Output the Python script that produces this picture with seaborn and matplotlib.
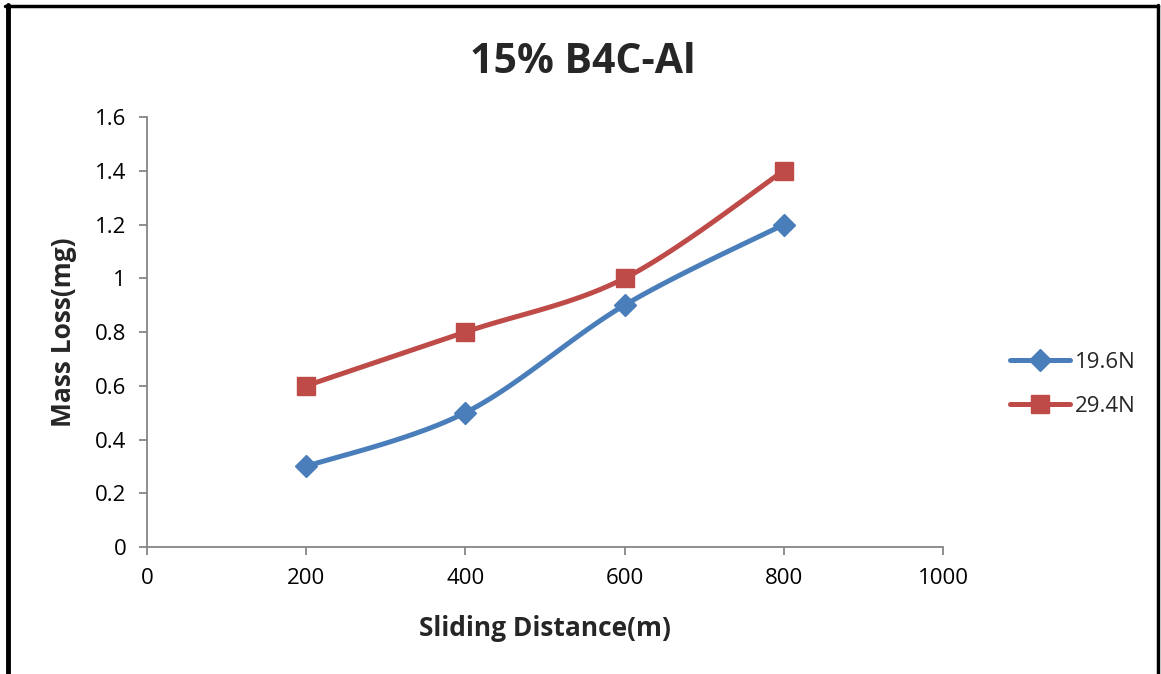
import numpy as np
import pandas as pd
import matplotlib
matplotlib.use("Agg")
import matplotlib.pyplot as plt
import seaborn as sns
from matplotlib.lines import Line2D

distance = [200, 400, 600, 800]
loss_196 = [0.3, 0.5, 0.9, 1.2]
loss_294 = [0.6, 0.8, 1.0, 1.4]
series_names = ["19.6N", "29.4N"]
colors = ["#4A7EBB", "#BE4B48"]
markers = ["D", "s"]
msizes = [11.5, 13]

sns.set_theme(style="white")
plt.rcParams['font.family'] = ['Open Sans', 'DejaVu Sans']


def excel_smooth(x, y, n=40):
    x = np.asarray(x, float); y = np.asarray(y, float)
    pts = np.column_stack([x, y])
    P = np.vstack([pts[0], pts, pts[-1]])
    out = []
    for i in range(1, len(P) - 2):
        p0, p1, p2, p3 = P[i - 1], P[i], P[i + 1], P[i + 2]
        c1 = p1 + (p2 - p0) / 6.0
        c2 = p2 - (p3 - p1) / 6.0
        t = np.linspace(0, 1, n)[:, None]
        seg = ((1 - t) ** 3) * p1 + 3 * ((1 - t) ** 2) * t * c1 + 3 * (1 - t) * t ** 2 * c2 + t ** 3 * p2
        out.append(seg if i == 1 else seg[1:])
    s = np.vstack(out)
    return s[:, 0], s[:, 1]


fig = plt.figure(figsize=(11.61, 6.74), dpi=100)
ax = fig.add_axes([0.1266, 0.1884, 0.6856, 0.638])

handles = []
for name, vals, c, m, ms in zip(series_names, [loss_196, loss_294], colors, markers, msizes):
    sx, sy = excel_smooth(distance, vals)
    df = pd.DataFrame({"x": sx, "y": sy})
    sns.lineplot(data=df, x="x", y="y", ax=ax, color=c, lw=3.6, sort=False, estimator=None)
    ax.plot(distance, vals, linestyle="none", marker=m, markersize=ms, color=c, zorder=3)
    handles.append(Line2D([0], [0], color=c, lw=3.6, marker=m, markersize=ms, solid_capstyle="round"))

ax.set_xlim(0, 1000)
ax.set_ylim(0, 1.6)
ax.set_xticks([0, 200, 400, 600, 800, 1000])
ax.set_yticks([0, 0.2, 0.4, 0.6, 0.8, 1.0, 1.2, 1.4, 1.6])
ax.set_yticklabels(["0", "0.2", "0.4", "0.6", "0.8", "1", "1.2", "1.4", "1.6"])
for s in ["top", "right"]:
    ax.spines[s].set_visible(False)
for s in ["left", "bottom"]:
    ax.spines[s].set_color("#868686")
    ax.spines[s].set_linewidth(1.3)
ax.tick_params(axis="both", which="major", direction="out", length=6, width=1.3,
               color="#868686", labelsize=16, labelcolor="black", pad=9,
               left=True, bottom=True)
ax.set_xlabel("Sliding Distance(m)", fontsize=19, fontweight="bold", labelpad=19)
ax.set_ylabel("Mass Loss(mg)", fontsize=19, fontweight="bold", labelpad=13)
fig.text(0.502, 0.908, "15% B4C-Al", ha="center", va="center", fontsize=29.5, fontweight="bold")

fig.legend(handles, series_names, loc="center left", bbox_to_anchor=(0.853, 0.43),
           frameon=False, fontsize=16, handlelength=2.7, labelspacing=1.05, handletextpad=0.2)

# outer border (left, top, right)
fig.add_artist(Line2D([0.0065, 0.0065], [0, 0.993], color="black", lw=3.5, transform=fig.transFigure))
fig.add_artist(Line2D([0.0045, 0.9975], [0.9915, 0.9915], color="black", lw=2.5, transform=fig.transFigure))
fig.add_artist(Line2D([0.9975, 0.9975], [0, 0.993], color="black", lw=2.5, transform=fig.transFigure))

fig.savefig("out.png", dpi=100)
